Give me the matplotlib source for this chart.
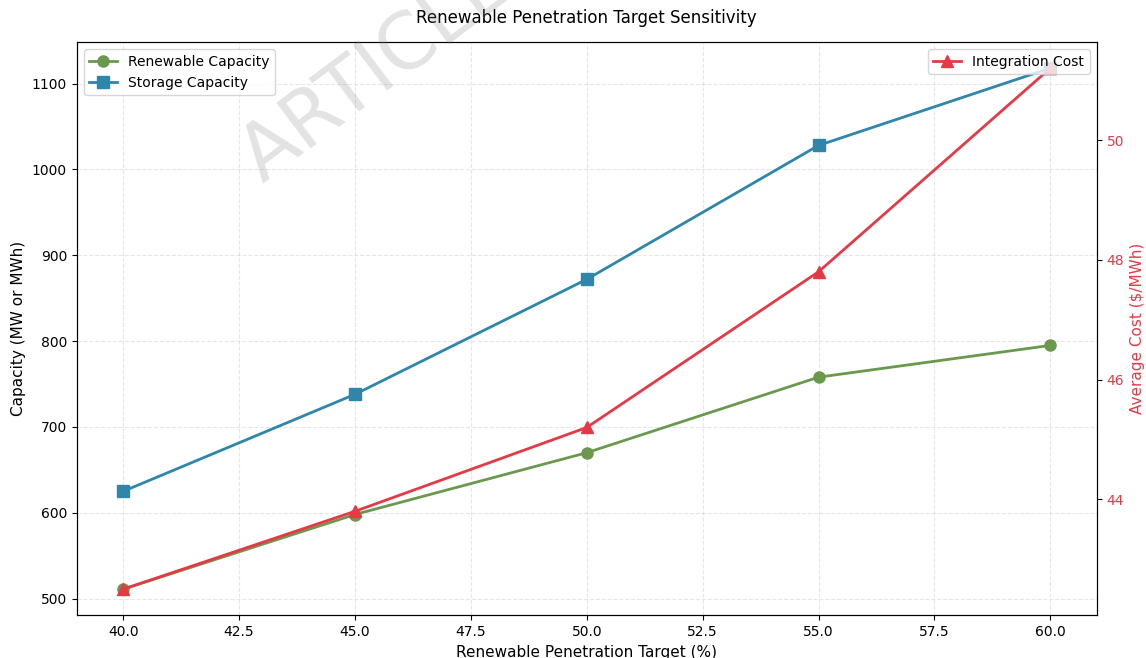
import matplotlib.pyplot as plt
import numpy as np

# penetration targets (%)
targets = [40, 45, 50, 55, 60]
renewable_capacity = [511, 598, 670, 758, 795]
storage_capacity = [625, 738, 872, 1028, 1118]
integration_cost = [42.5, 43.8, 45.2, 47.8, 51.2]

green = '#6A994E'
blue = '#2E86AB'
red = '#E63946'

fig, ax1 = plt.subplots(figsize=(11.46, 6.58), dpi=100)
fig.subplots_adjust(left=0.067, right=0.957, bottom=0.065, top=0.936)

ax1.plot(targets, renewable_capacity, marker='o', color=green, linewidth=2,
         markersize=8, label='Renewable Capacity')
ax1.plot(targets, storage_capacity, marker='s', color=blue, linewidth=2,
         markersize=8, label='Storage Capacity')
ax1.set_xlabel('Renewable Penetration Target (%)', fontsize=11)
ax1.set_ylabel('Capacity (MW or MWh)', fontsize=11)
ax1.grid(True, linestyle='--', alpha=0.3)
ax1.legend(loc='upper left')

ax2 = ax1.twinx()
ax2.plot(targets, integration_cost, marker='^', color=red, linewidth=2,
         markersize=9, label='Integration Cost')
ax2.set_ylabel('Average Cost ($/MWh)', color=red, fontsize=11)
ax2.tick_params(axis='y', labelcolor=red)
ax2.legend(loc='upper right')

ax1.set_title('Renewable Penetration Target Sensitivity', fontsize=12, pad=14)

# diagonal watermark, runs off the top edge
fig.text(0.238, 0.70, 'ARTICLE', fontsize=56, color='gray', alpha=0.22,
         rotation=37, ha='left', va='bottom', rotation_mode='anchor')

plt.savefig('out.png', dpi=100)
